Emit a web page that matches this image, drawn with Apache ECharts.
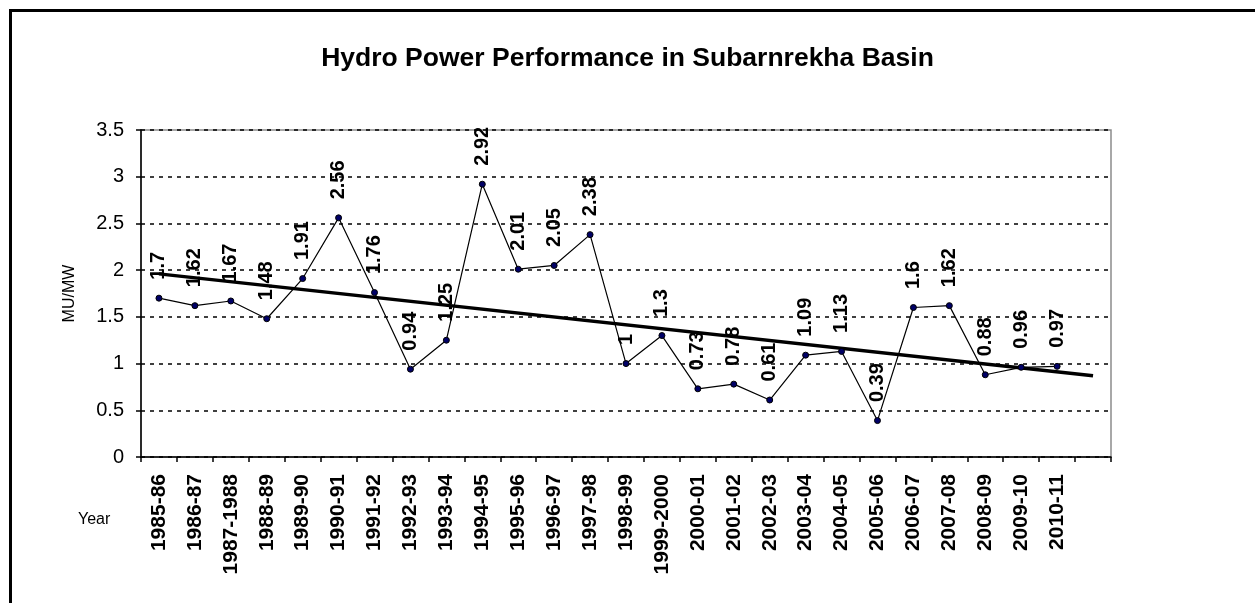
<!DOCTYPE html>
<html>
<head>
    <meta charset="utf-8"/>
    <title>Hydro Power Performance in Subarnrekha Basin</title>
    <script src="https://cdn.jsdelivr.net/npm/echarts@6/dist/echarts.min.js"></script>
    <style>
        html, body {
            margin: 0;
            padding: 0;
            background: #fff;
        }
        #chart {
            width: 1255px;
            height: 603px;
        }
    </style>
</head>
<body>
<div id="chart"></div>
<script>
    // 年份（最后一格为空，趋势线延伸到这里）
    var years = ['1985-86', '1986-87', '1987-1988', '1988-89', '1989-90', '1990-91', '1991-92',
        '1992-93', '1993-94', '1994-95', '1995-96', '1996-97', '1997-98', '1998-99', '1999-2000',
        '2000-01', '2001-02', '2002-03', '2003-04', '2004-05', '2005-06', '2006-07', '2007-08',
        '2008-09', '2009-10', '2010-11', ''];
    // MU/MW
    var perf = [1.7, 1.62, 1.67, 1.48, 1.91, 2.56, 1.76, 0.94, 1.25, 2.92, 2.01, 2.05, 2.38,
        1, 1.3, 0.73, 0.78, 0.61, 1.09, 1.13, 0.39, 1.6, 1.62, 0.88, 0.96, 0.97];
    // 趋势线两端
    var trendEnds = [1.96, 0.87];
    var yTicks = [0, 0.5, 1, 1.5, 2, 2.5, 3, 3.5];

    var trend = years.map(function () { return null; });
    trend[0] = trendEnds[0];
    trend[years.length - 1] = trendEnds[1];

    var font = 'Arial, "Liberation Sans", sans-serif';
    var myChart = echarts.init(document.getElementById('chart'));

    var option = {
        animation: false,
        title: {
            text: 'Hydro Power Performance in Subarnrekha Basin',
            left: 'center',
            top: 40,
            textStyle: {fontFamily: font, fontSize: 26.5, fontWeight: 'bold', color: '#000'}
        },
        grid: {
            left: 141, right: 144, top: 130, bottom: 146,
            show: true, borderColor: '#8c8c8c', borderWidth: 1.5, backgroundColor: '#fff'
        },
        xAxis: {
            type: 'category',
            data: years,
            boundaryGap: true,
            axisLine: {lineStyle: {color: '#000', width: 1.5}},
            axisTick: {show: true, interval: 0, length: 5, lineStyle: {color: '#000', width: 1.5}},
            axisLabel: {
                interval: 0, rotate: 90, margin: 17,
                fontFamily: font, fontSize: 21, fontWeight: 'bold', color: '#000'
            },
            splitLine: {show: false}
        },
        yAxis: {
            type: 'value',
            min: yTicks[0],
            max: yTicks[yTicks.length - 1],
            interval: 0.5,
            name: 'MU/MW',
            nameLocation: 'middle',
            nameRotate: 90,
            nameGap: 63,
            nameTextStyle: {fontFamily: font, fontSize: 16, color: '#000'},
            axisLine: {show: true, lineStyle: {color: '#000', width: 1.5}},
            axisTick: {show: true, length: 5, lineStyle: {color: '#000', width: 1.5}},
            axisLabel: {fontFamily: font, fontSize: 20, color: '#000', margin: 17},
            splitLine: {show: true, lineStyle: {color: '#000', width: 1.5, type: [4, 5]}}
        },
        graphic: [
            {
                type: 'rect',
                shape: {x: 10.5, y: 10.5, width: 1400, height: 800},
                style: {fill: 'none', stroke: '#000', lineWidth: 3},
                silent: true
            },
            {
                type: 'text',
                left: 78, top: 512,
                style: {text: 'Year', fontFamily: font, fontSize: 16, fill: '#000'}
            }
        ],
        series: [
            {
                name: 'MU/MW',
                type: 'line',
                data: perf,
                symbol: 'circle',
                symbolSize: 6,
                z: 3,
                lineStyle: {color: '#000', width: 1.2},
                itemStyle: {color: '#000066', borderColor: '#000', borderWidth: 1},
                label: {
                    show: true,
                    position: 'top',
                    distance: 15,
                    rotate: 90,
                    align: 'left',
                    verticalAlign: 'middle',
                    fontFamily: font, fontSize: 20, fontWeight: 'bold', color: '#000'
                }
            },
            {
                name: 'Linear (MU/MW)',
                type: 'line',
                data: trend,
                connectNulls: true,
                symbol: 'none',
                z: 2,
                lineStyle: {color: '#000', width: 3.5}
            }
        ]
    };
    myChart.setOption(option);

    window.onresize = function () {
        myChart.resize();
    };
</script>
</body>
</html>
